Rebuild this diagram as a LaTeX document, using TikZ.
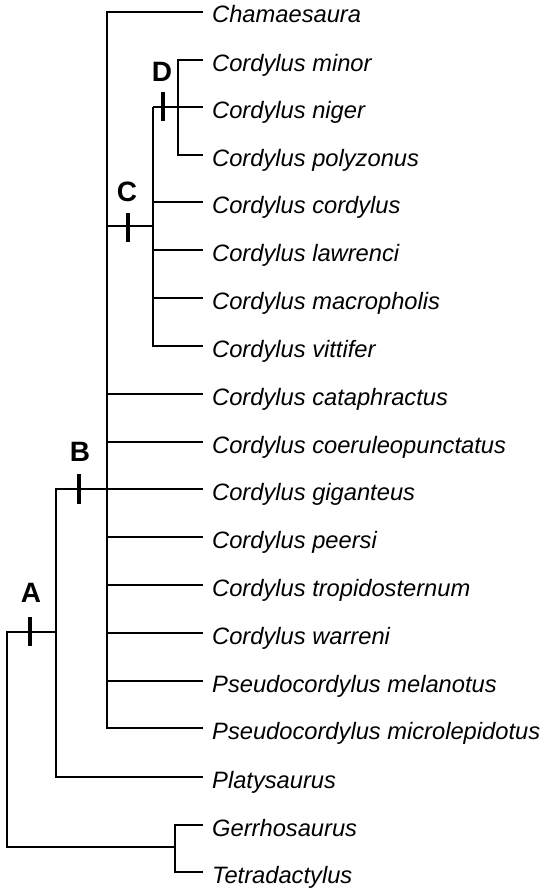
\documentclass[tikz,border=0pt]{standalone}
\usepackage{fontspec}
\setmainfont{Liberation Sans}
\begin{document}
\begin{tikzpicture}[x=1pt,y=-1pt,
  branch/.style={line width=2.5pt, line join=miter},
  tickmark/.style={line width=3.8pt},
  taxon/.style={anchor=base west, inner sep=0pt, font=\fontsize{23.7}{26}\selectfont\itshape},
  cladelabel/.style={inner sep=0pt, font=\fontsize{28}{30}\selectfont\bfseries}]
\useasboundingbox (0,0) rectangle (543,891);
% tips and taxon names
\foreach \n/\y/\t in {
  t0/12/Chamaesaura,
  t1/60/Cordylus minor,
  t2/107/Cordylus niger,
  t3/155/Cordylus polyzonus,
  t4/202/Cordylus cordylus,
  t5/250/Cordylus lawrenci,
  t6/298/Cordylus macropholis,
  t7/346/Cordylus vittifer,
  t8/394/Cordylus cataphractus,
  t9/442/Cordylus coeruleopunctatus,
  t10/489/Cordylus giganteus,
  t11/537/Cordylus peersi,
  t12/585/Cordylus tropidosternum,
  t13/633/Cordylus warreni,
  t14/681/Pseudocordylus melanotus,
  t15/728/Pseudocordylus microlepidotus,
  t16/777/Platysaurus,
  t17/825/Gerrhosaurus,
  t18/872/Tetradactylus}{
  \coordinate (\n) at (203,\y);
  \node[taxon] (\n l) at (212,\y+11) {\t};
}
% internal nodes
\coordinate (nB) at (107,489);
\coordinate (nC) at (153,226);
\coordinate (nD) at (178,107);
\coordinate (nA) at (56,632);
\coordinate (root) at (7,632);
\coordinate (nG) at (175,847);
% clade with Chamaesaura
\draw[branch] (t0) -- (nB |- t0) -- (nB |- t15) -- (t15);
\foreach \k in {t8,t9,t10,t11,t12,t13,t14}{
  \draw[branch] (nB |- \k) -- (\k);
}
\draw[branch] (nB |- nC) -- (nC);
% clade C
\draw[branch] (nC |- t2) -- (nC |- t7) -- (t7);
\draw[branch] (nC |- t2) -- (t2);
\foreach \k in {t4,t5,t6}{
  \draw[branch] (nC |- \k) -- (\k);
}
% clade D
\draw[branch] (t1) -- (nD |- t1) -- (nD |- t3) -- (t3);
% clade A
\draw[branch] (nB) -- (nA |- nB) -- (nA |- t16) -- (t16);
% root
\draw[branch] (nA) -- (root) -- (root |- nG) -- (nG);
\draw[branch] (t17) -- (nG |- t17) -- (nG |- t18) -- (t18);
% tick marks
\coordinate (dT1) at (163,92);  \coordinate (dT2) at (163,121);
\coordinate (cT1) at (128,213); \coordinate (cT2) at (128,242);
\coordinate (bT1) at (79,474);  \coordinate (bT2) at (79,504);
\coordinate (aT1) at (30,617);  \coordinate (aT2) at (30,646);
\draw[tickmark] (dT1) -- (dT2);
\draw[tickmark] (cT1) -- (cT2);
\draw[tickmark] (bT1) -- (bT2);
\draw[tickmark] (aT1) -- (aT2);
% labels
\node[cladelabel] (labD) at (162,72) {D};
\node[cladelabel] (labC) at (127,192) {C};
\node[cladelabel] (labB) at (80,452) {B};
\node[cladelabel] (labA) at (31,593) {A};
\end{tikzpicture}
\end{document}
